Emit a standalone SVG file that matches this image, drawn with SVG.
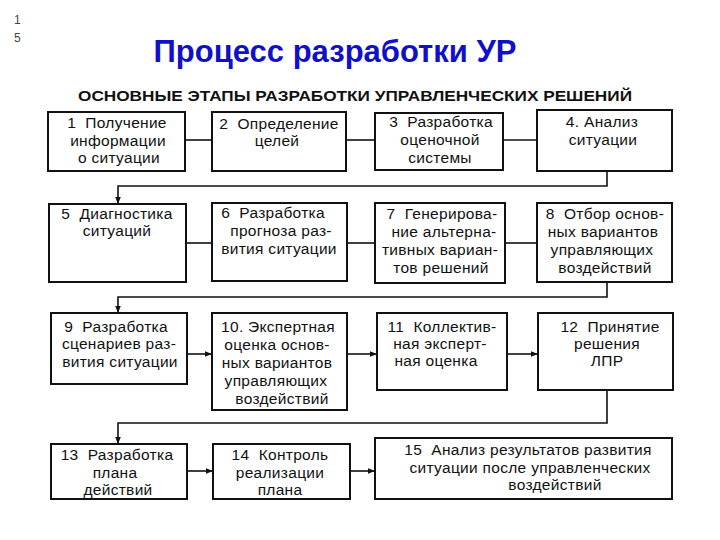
<svg xmlns="http://www.w3.org/2000/svg" width="720" height="540" viewBox="0 0 720 540">
<defs>
<style>
.box{fill:#fff;stroke:#111;stroke-width:2}
.t{font-family:"Liberation Sans",Arial,sans-serif;font-size:15.5px;letter-spacing:0.3px;fill:#111;text-anchor:middle}
.c{fill:none;stroke:#111;stroke-width:1.6}
.pn{font-family:"Liberation Sans",Arial,sans-serif;font-size:12px;fill:#444}
</style>
<marker id="ah" viewBox="0 0 10 10" refX="10" refY="5" markerWidth="7" markerHeight="7" markerUnits="userSpaceOnUse" orient="auto">
<path d="M0,1 L10,5 L0,9 Z" fill="#111"/>
</marker>
</defs>
<rect width="720" height="540" fill="#fff"/>
<text class="pn" x="14" y="24">1</text>
<text class="pn" x="14" y="42">5</text>
<text x="335" y="62" font-family="Liberation Sans,Arial,sans-serif" font-size="31" font-weight="bold" fill="#1010c8" text-anchor="middle">Процесс разработки УР</text>
<text x="355" y="101" font-family="Liberation Sans,Arial,sans-serif" font-size="15" font-weight="bold" fill="#111" text-anchor="middle" textLength="554" lengthAdjust="spacingAndGlyphs">ОСНОВНЫЕ ЭТАПЫ РАЗРАБОТКИ УПРАВЛЕНЧЕСКИХ РЕШЕНИЙ</text>

<g id="connectors">
<line class="c" x1="185" y1="140" x2="212" y2="140"/>
<line class="c" x1="346" y1="140" x2="375" y2="140"/>
<line class="c" x1="503" y1="140" x2="537" y2="140"/>
<polyline class="c" points="607,171 607,186 118,186 118,204" marker-end="url(#ah)"/>
<line class="c" x1="186" y1="243" x2="212" y2="243"/>
<line class="c" x1="347" y1="243" x2="375" y2="243"/>
<line class="c" x1="505" y1="243" x2="537" y2="243"/>
<polyline class="c" points="607,282 607,297 118,297 118,313" marker-end="url(#ah)"/>
<line class="c" x1="187" y1="354" x2="212" y2="354" marker-end="url(#ah)"/>
<line class="c" x1="347" y1="354" x2="377" y2="354" marker-end="url(#ah)"/>
<line class="c" x1="507" y1="354" x2="538" y2="354" marker-end="url(#ah)"/>
<polyline class="c" points="607,390 607,423 118,423 118,444" marker-end="url(#ah)"/>
<line class="c" x1="187" y1="471" x2="213" y2="471" marker-end="url(#ah)"/>
<line class="c" x1="350" y1="471" x2="375" y2="471" marker-end="url(#ah)"/>
</g>

<g id="n1"><rect class="box" x="48" y="112" width="137" height="59"/>
<text class="t" x="117" y="128">1&#160; Получение</text><text class="t" x="118" y="146">информации</text><text class="t" x="119" y="163">о ситуации</text></g>
<g id="n2"><rect class="box" x="212" y="112" width="134" height="59"/>
<text class="t" x="279" y="129">2&#160; Определение</text><text class="t" x="277" y="146">целей</text></g>
<g id="n3"><rect class="box" x="375" y="113" width="128" height="57"/>
<text class="t" x="441" y="127">3&#160; Разработка</text><text class="t" x="440" y="145">оценочной</text><text class="t" x="440" y="163">системы</text></g>
<g id="n4"><rect class="box" x="537" y="110" width="135" height="61"/>
<text class="t" x="602" y="127">4. Анализ</text><text class="t" x="603" y="145">ситуации</text></g>

<g id="n5"><rect class="box" x="49" y="204" width="137" height="78"/>
<text class="t" x="117" y="219">5&#160; Диагностика</text><text class="t" x="117" y="236">ситуаций</text></g>
<g id="n6"><rect class="box" x="212" y="203" width="135" height="78"/>
<text class="t" x="273" y="218">6&#160; Разработка</text><text class="t" x="281" y="236">прогноза раз-</text><text class="t" x="279" y="254">вития ситуации</text></g>
<g id="n7"><rect class="box" x="375" y="203" width="130" height="80"/>
<text class="t" x="442" y="219">7&#160; Генерирова-</text><text class="t" x="444" y="237">ние альтерна-</text><text class="t" x="440" y="255">тивных вариан-</text><text class="t" x="441" y="273">тов решений</text></g>
<g id="n8"><rect class="box" x="537" y="203" width="135" height="79"/>
<text class="t" x="605" y="219">8&#160; Отбор основ-</text><text class="t" x="603" y="237">ных вариантов</text><text class="t" x="602" y="255">управляющих</text><text class="t" x="605" y="273">воздействий</text></g>

<g id="n9"><rect class="box" x="51" y="313" width="136" height="71"/>
<text class="t" x="116" y="332">9&#160; Разработка</text><text class="t" x="119" y="349">сценариев раз-</text><text class="t" x="120" y="367">вития ситуации</text></g>
<g id="n10"><rect class="box" x="212" y="313" width="135" height="97"/>
<text class="t" x="278" y="332">10. Экспертная</text><text class="t" x="277" y="350">оценка основ-</text><text class="t" x="277" y="368">ных вариантов</text><text class="t" x="276" y="386">управляющих</text><text class="t" x="282" y="404">воздействий</text></g>
<g id="n11"><rect class="box" x="377" y="313" width="130" height="77"/>
<text class="t" x="442" y="332">11&#160; Коллектив-</text><text class="t" x="440" y="349">ная эксперт-</text><text class="t" x="436" y="366">ная оценка</text></g>
<g id="n12"><rect class="box" x="538" y="313" width="135" height="77"/>
<text class="t" x="610" y="332">12&#160; Принятие</text><text class="t" x="607" y="349">решения</text><text class="t" x="607" y="366">ЛПР</text></g>

<g id="n13"><rect class="box" x="51" y="444" width="136" height="55"/>
<text class="t" x="117" y="460">13&#160; Разработка</text><text class="t" x="115" y="478">плана</text><text class="t" x="118" y="495">действий</text></g>
<g id="n14"><rect class="box" x="213" y="444" width="137" height="55"/>
<text class="t" x="280" y="460">14&#160; Контроль</text><text class="t" x="280" y="478">реализации</text><text class="t" x="280" y="495">плана</text></g>
<g id="n15"><rect class="box" x="375" y="438" width="297" height="61"/>
<text class="t" x="528" y="455">15&#160; Анализ результатов развития</text><text class="t" x="530" y="473">ситуации после управленческих</text><text class="t" x="555" y="490">воздействий</text></g>
</svg>
